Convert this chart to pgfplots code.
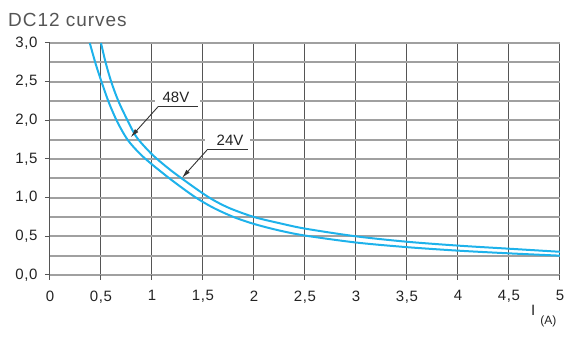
\documentclass[border=0pt]{standalone}
\usepackage{fontspec}
\setmainfont{Liberation Sans}
\usepackage{pgfplots}
\pgfplotsset{compat=1.18}
\usetikzlibrary{arrows.meta}
\definecolor{curve}{RGB}{30,178,235}
\definecolor{hgrid}{RGB}{160,160,160}
\definecolor{vgrid}{RGB}{85,85,85}
\definecolor{titlegray}{RGB}{85,85,85}
\definecolor{lbl}{RGB}{35,35,35}
\begin{document}
\begin{tikzpicture}[x=1pt,y=1pt]
\useasboundingbox (-50,-70) rectangle (518,275);
\begin{axis}[
  at={(0,0)}, anchor=south west,
  scale only axis, width=510pt, height=232pt,
  xmin=0, xmax=5, ymin=0, ymax=3,
  axis line style={draw=none},
  xtick pos=bottom, ytick pos=left,
  xtick={0,0.5,...,5},
  xticklabels={0,{0,5},1,{1,5},2,{2,5},3,{3,5},4,{4,5},5},
  ytick={0,0.25,...,3.01},
  yticklabels={{0,0},,{0,5},,{1,0},,{1,5},,{2,0},,{2,5},,{3,0}},
  xmajorgrids, ymajorgrids,
  major x grid style={vgrid, line width=1pt},
  major y grid style={hgrid, line width=1.7pt},
  tick align=outside,
  major tick length=0pt,
  extra x ticks={0,0.5,...,5},
  extra x tick labels={},
  extra y ticks={0,0.5,...,3},
  extra y tick labels={},
  extra tick style={major tick length=5pt, xmajorgrids=false, ymajorgrids=false, major tick style={vgrid, line width=1pt}},
  tick label style={font=\fontsize{15}{17}\selectfont\addfontfeatures{LetterSpace=4}, text=lbl},
  yticklabel style={xshift=-9pt},
  xticklabel style={yshift=-12pt},
]
\addplot[curve, line width=2pt, smooth, tension=0.5] coordinates {
(0.39,3.0) (0.45,2.72) (0.51,2.48) (0.58,2.22) (0.66,1.98) (0.76,1.75)
(0.88,1.57) (1.0,1.43) (1.2,1.22) (1.42,1.01) (1.6,0.87) (1.8,0.75)
(2.0,0.66) (2.25,0.575) (2.5,0.51) (3.0,0.42) (3.5,0.36) (4.0,0.315)
(4.5,0.28) (5.0,0.25)};
\addplot[curve, line width=2pt, smooth, tension=0.5] coordinates {
(0.5,3.0) (0.545,2.75) (0.6,2.5) (0.67,2.25) (0.76,2.0) (0.85,1.78)
(1.0,1.56) (1.15,1.39) (1.29,1.25) (1.55,1.01) (1.75,0.87) (2.0,0.75)
(2.25,0.67) (2.5,0.60) (3.0,0.50) (3.5,0.43) (4.0,0.38) (4.5,0.34)
(5.0,0.30)};
\fill[white] (axis cs:1.03,2.19) rectangle (axis cs:1.47,2.42);
\fill[white] (axis cs:1.52,1.63) rectangle (axis cs:1.96,1.87);
\node[anchor=base, inner sep=0pt, text=lbl, font=\fontsize{15}{17}\selectfont] at (axis cs:1.235,2.225) {48V};
\node[anchor=base, inner sep=0pt, text=lbl, font=\fontsize{15}{17}\selectfont] at (axis cs:1.765,1.67) {24V};
\draw[black!80, line width=0.9pt] (axis cs:1.06,2.177) -- (axis cs:1.45,2.177);
\draw[black!80, line width=0.9pt, -{Latex[length=9pt,width=4.5pt]}] (axis cs:1.06,2.177) -- (axis cs:0.79,1.78);
\draw[black!80, line width=0.9pt] (axis cs:1.54,1.617) -- (axis cs:1.94,1.617);
\draw[black!80, line width=0.9pt, -{Latex[length=9pt,width=4.5pt]}] (axis cs:1.54,1.617) -- (axis cs:1.294,1.255);
\end{axis}
\node[anchor=base west, inner sep=0pt, text=titlegray, font=\fontsize{19}{21}\selectfont\addfontfeatures{LetterSpace=5}] at (-42,248) {DC12 curves};
\node[anchor=base west, inner sep=0pt, text=lbl, font=\fontsize{15}{17}\selectfont] at (481,-41) {I\hspace{5pt}\raisebox{-9pt}{\fontsize{12}{14}\selectfont (A)}};
\end{tikzpicture}
\end{document}
